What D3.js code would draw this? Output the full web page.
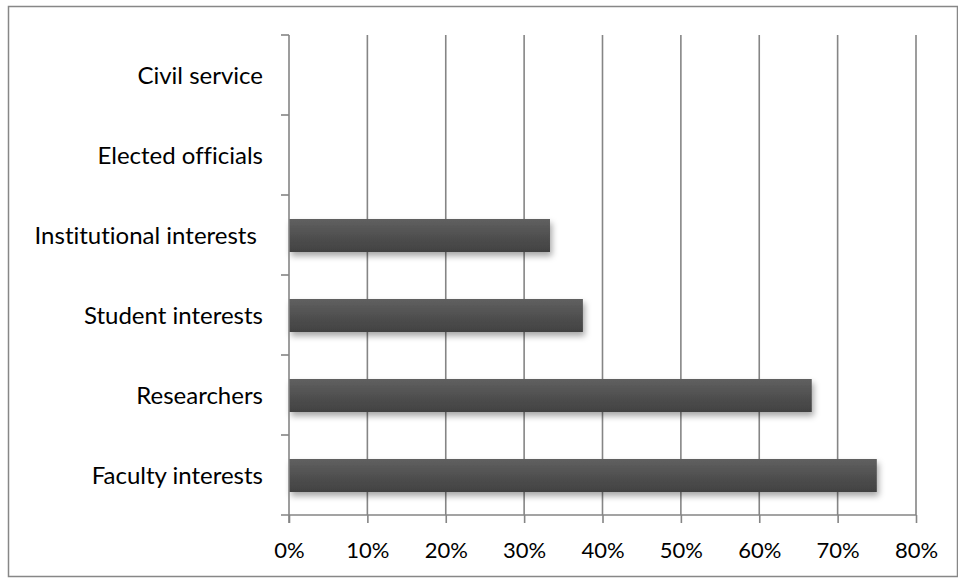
<!DOCTYPE html>
<html>
<head>
<meta charset="utf-8">
<script src="https://cdn.jsdelivr.net/npm/d3@7/dist/d3.min.js"></script>
<style>
  body { margin: 0; background: #fff; }
  text { font-family: Lato, "Open Sans", sans-serif; fill: #000; font-variant-ligatures: none; }
</style>
</head>
<body>
<svg id="chart" width="958" height="578"></svg>
<script>
// categories, bottom to top as drawn
const categories = ["Faculty interests", "Researchers", "Student interests", "Institutional interests ", "Elected officials", "Civil service"]
const shares = [0.75, 0.667, 0.375, 0.333, 0, 0]
const xTicks = [0, 0.1, 0.2, 0.3, 0.4, 0.5, 0.6, 0.7, 0.8]

const svg = d3.select('#chart')
const plotLeft = 289, plotRight = 916, plotTop = 35, plotBottom = 515

// outer frame
svg.append('rect')
  .attr('x', 8.5).attr('y', 6.5).attr('width', 949).attr('height', 570)
  .attr('fill', 'none').attr('stroke', '#878787').attr('stroke-width', 1.5)

const defs = svg.append('defs')
const grad = defs.append('linearGradient').attr('id', 'barGrad')
  .attr('x1', 0).attr('y1', 0).attr('x2', 0).attr('y2', 1)
grad.append('stop').attr('offset', '0%').attr('stop-color', '#606060')
grad.append('stop').attr('offset', '100%').attr('stop-color', '#414141')
const shadow = defs.append('filter').attr('id', 'shadow')
  .attr('x', '-5%').attr('y', '-30%').attr('width', '115%').attr('height', '190%')
shadow.append('feDropShadow').attr('dx', 2).attr('dy', 4)
  .attr('stdDeviation', 3).attr('flood-color', '#000').attr('flood-opacity', 0.35)

const x = d3.scaleLinear().domain([0, 0.8]).range([plotLeft, plotRight])
// top to bottom order for the band scale
const y = d3.scaleBand().domain(categories.slice().reverse()).range([plotTop, plotBottom])

// vertical gridlines
svg.append('g').selectAll('line')
  .data(xTicks.slice(1))
  .enter().append('line')
  .attr('x1', d => x(d)).attr('x2', d => x(d))
  .attr('y1', plotTop).attr('y2', plotBottom)
  .attr('stroke', '#858585').attr('stroke-width', 1.6)

// bars
const barH = 33
svg.append('g').selectAll('rect')
  .data(categories.map((c, i) => ({ c: c, v: shares[i] })).filter(d => d.v > 0))
  .enter().append('rect')
  .attr('x', plotLeft)
  .attr('y', d => y(d.c) + y.bandwidth() / 2 - barH / 2 + 0.5)
  .attr('width', d => x(d.v) - plotLeft)
  .attr('height', barH)
  .attr('fill', 'url(#barGrad)')
  .attr('filter', 'url(#shadow)')

// x axis
const xAxis = svg.append('g')
  .attr('transform', `translate(0,${plotBottom})`)
  .call(d3.axisBottom(x).tickValues(xTicks).tickFormat(d3.format('.0%')).tickSizeInner(8).tickSizeOuter(0))
xAxis.select('.domain').attr('stroke', '#858585').attr('stroke-width', 1.6)
  .attr('d', `M${plotLeft - 8},0H${plotRight}`)
xAxis.selectAll('.tick line').attr('stroke', '#858585').attr('stroke-width', 1.6)
xAxis.selectAll('.tick text')
  .attr('y', 43).attr('dy', 0)
  .style('font-size', '22px').style('font-family', 'Lato, sans-serif').attr('fill', '#000')

// y axis: ticks sit on band boundaries
const yAxis = svg.append('g').attr('transform', `translate(${plotLeft},0)`)
yAxis.append('line')
  .attr('x1', 0).attr('x2', 0).attr('y1', plotTop).attr('y2', plotBottom + 8)
  .attr('stroke', '#858585').attr('stroke-width', 1.6)
yAxis.selectAll('line.yt')
  .data(y.domain())
  .enter().append('line').attr('class', 'yt')
  .attr('x1', -8).attr('x2', 0)
  .attr('y1', d => y(d)).attr('y2', d => y(d))
  .attr('stroke', '#858585').attr('stroke-width', 1.6)
yAxis.selectAll('text')
  .data(y.domain())
  .enter().append('text')
  .attr('x', -26)
  .attr('y', d => y(d) + y.bandwidth() / 2 + 9)
  .attr('text-anchor', 'end')
  .style('white-space', 'pre')
  .style('font-size', '24px')
  .text(d => d)
</script>
</body>
</html>
